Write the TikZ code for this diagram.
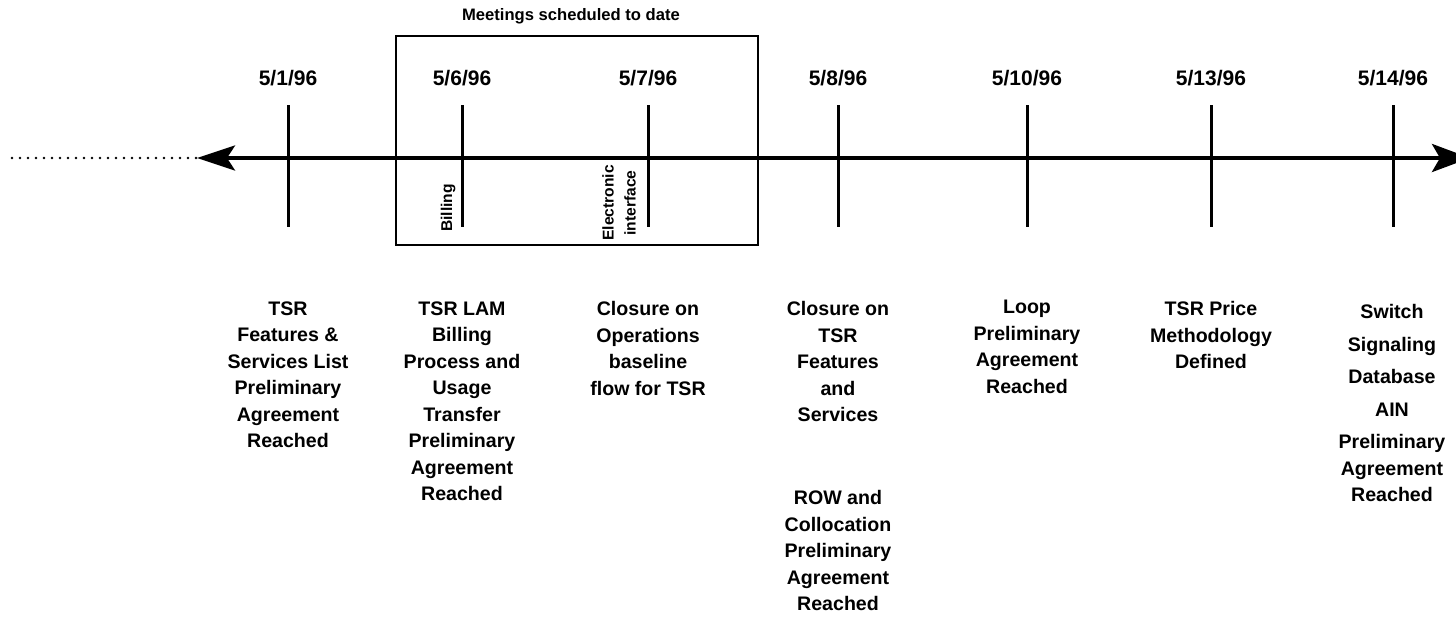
\documentclass[tikz,border=0pt]{standalone}
\usepackage{fontspec}
\setmainfont{Liberation Sans}
\usetikzlibrary{arrows.meta}
\begin{document}
\begin{tikzpicture}[x=0.5pt,y=-0.5pt,
  axisline/.style={line width=2pt,
    {Stealth[length=19pt,width=12.5pt,inset=4pt]}-{Stealth[length=19pt,width=14pt,inset=4pt]}},
  dotline/.style={line width=1.3pt,line cap=round,dash pattern=on 0pt off 4pt},
  tickline/.style={line width=1.5pt},
  meetbox/.style={draw,line width=1.2pt},
  datelbl/.style={font=\fontsize{10.5}{12}\selectfont\bfseries,inner sep=0pt},
  titlelbl/.style={font=\fontsize{8.3}{10}\selectfont\bfseries,inner sep=0pt},
  sidelbl/.style={font=\fontsize{7.8}{11}\selectfont\bfseries,inner sep=0pt,rotate=90,align=center},
  milestone/.style={font=\fontsize{9.8}{13.25}\selectfont\bfseries,inner sep=0pt,align=center,anchor=north}]
\clip (0,0) rectangle (1456,616);

% time axis
\coordinate (dotL) at (12,158);
\coordinate (axL) at (197,158);
\coordinate (axR) at (1470,158);
\draw[dotline] (dotL) -- (axL);
\draw[axisline] (axL) -- (axR);

% box around the meetings held so far
\node[titlelbl] (boxtitle) at (571,16) {Meetings scheduled to date};
\draw[meetbox] (396,36) rectangle (758,245);

% date ticks with their labels
\foreach \name/\x/\d in {a/288/5\slash 1\slash 96, b/462/5\slash 6\slash 96, c/648/5\slash 7\slash 96,
    d/838/5\slash 8\slash 96, e/1027/5\slash 10\slash 96, f/1211/5\slash 13\slash 96, g/1393/5\slash 14\slash 96}{
  \coordinate (\name top) at (\x,105);
  \coordinate (\name bot) at (\x,227);
  \draw[tickline] (\name top) -- (\name bot);
  \node[datelbl] (\name date) at (\x,78) {\d};
}

% meeting subjects
\node[sidelbl] (billing) at (448,208) {Billing};
\node[sidelbl] (elec) at (619,203) {Electronic\\interface};

% milestones below the axis
\node[milestone] (ma) at (288,301) {TSR\\Features \&\\Services List\\Preliminary\\Agreement\\Reached};
\node[milestone] (mb) at (462,301) {TSR LAM\\Billing\\Process and\\Usage\\Transfer\\Preliminary\\Agreement\\Reached};
\node[milestone] (mc) at (648,301) {Closure on\\Operations\\baseline\\flow for TSR};
\node[milestone] (md) at (838,301) {Closure on\\TSR\\Features\\and\\Services};
\node[milestone] (md2) at (838,490) {ROW and\\Collocation\\Preliminary\\Agreement\\Reached};
\node[milestone] (me) at (1027,300) {Loop\\Preliminary\\Agreement\\Reached};
\node[milestone] (mf) at (1211,301) {TSR Price\\Methodology\\Defined};
\node[milestone] (mg) at (1392,304) {Switch\\[3pt]Signaling\\[3pt]Database\\[3pt]AIN\\[3pt]Preliminary\\Agreement\\Reached};
\end{tikzpicture}
\end{document}
